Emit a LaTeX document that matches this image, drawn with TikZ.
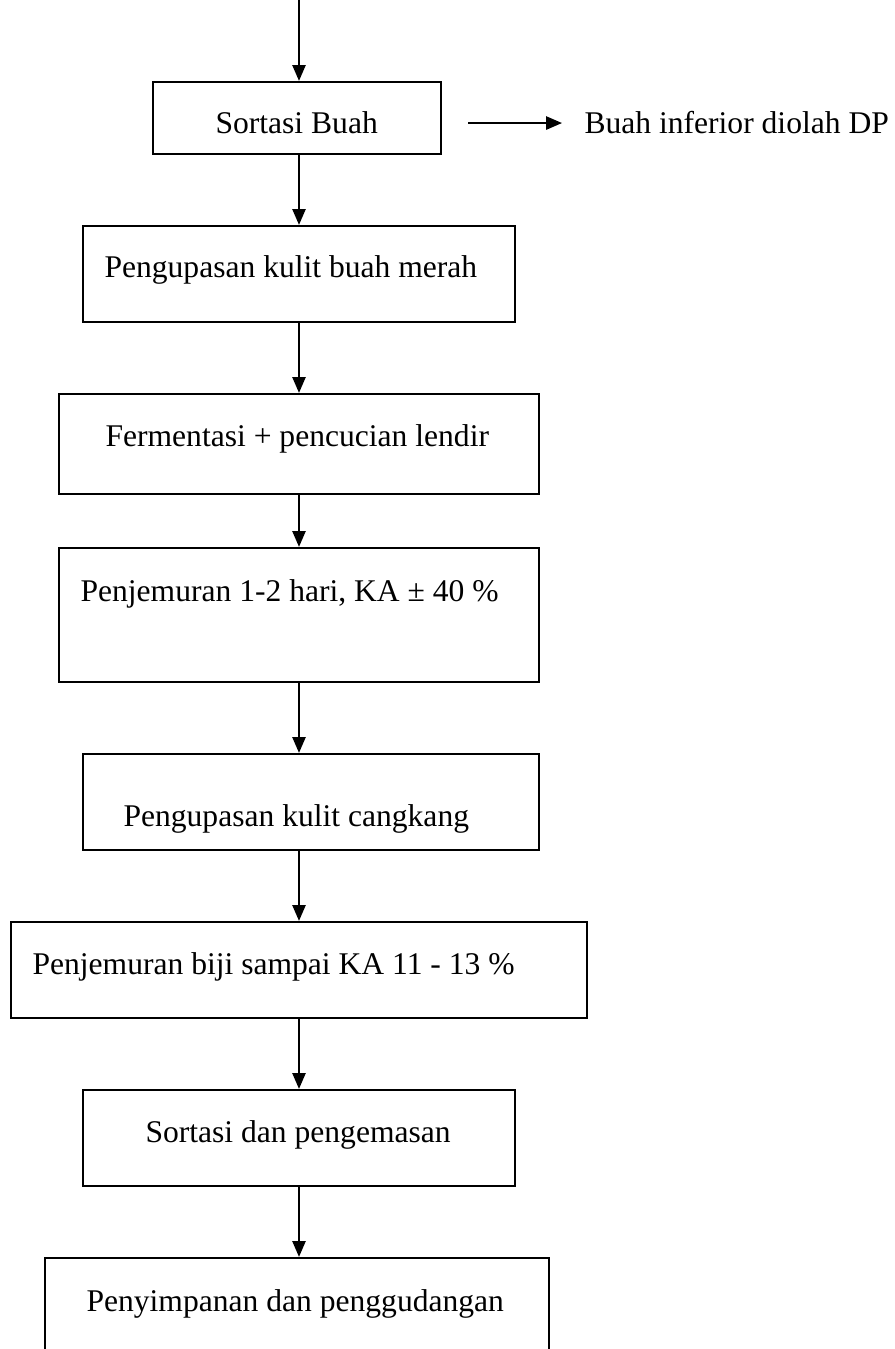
\documentclass[tikz,border=0pt]{standalone}
\usepackage{fontspec}
\setmainfont{Liberation Serif}
\usetikzlibrary{positioning}
\usetikzlibrary{arrows.meta}
\newcommand{\pxu}{0.38pt}
\tikzset{
  flowbox/.style={draw, line width=0.85pt, inner sep=0pt},
  flowtext/.style={inner sep=0pt, font=\fontsize{12pt}{14pt}\selectfont},
  flowarrow/.style={line width=0.7pt, -{Triangle[length=6pt,width=5pt]}}
}

\begin{document}
\begin{tikzpicture}[x=\pxu, y=-\pxu]
		% Fix page size
		\useasboundingbox (0,0) rectangle (894,1349);
		\clip (0,0) rectangle (894,1349);
		% Draw boxes
		\node[flowbox, minimum width=288*\pxu, minimum height=72*\pxu] (sortasi) at (297,118) {};
		\node[flowbox, minimum width=432*\pxu, minimum height=96*\pxu] (kupasbuah) at (299,274) {};
		\node[flowbox, minimum width=480*\pxu, minimum height=100*\pxu] (fermentasi) at (299,444) {};
		\node[flowbox, minimum width=480*\pxu, minimum height=134*\pxu] (jemur) at (299,615) {};
		\node[flowbox, minimum width=456*\pxu, minimum height=96*\pxu] (kupascangkang) at (311,802) {};
		\node[flowbox, minimum width=576*\pxu, minimum height=96*\pxu] (jemurbiji) at (299,970) {};
		\node[flowbox, minimum width=432*\pxu, minimum height=96*\pxu] (kemas) at (299,1138) {};
		\node[flowbox, minimum width=504*\pxu, minimum height=96*\pxu] (simpan) at (297,1306) {};
		% Label boxes
		\node[flowtext, anchor=base west] at (215,134) {Sortasi Buah};
		\node[flowtext, anchor=base west] (inferior) at (584,134) {Buah inferior diolah DP};
		\node[flowtext, anchor=base west] at (104,277) {Pengupasan kulit buah merah};
		\node[flowtext, anchor=base west] at (105,446) {Fermentasi + pencucian lendir};
		\node[flowtext, anchor=base west] at (80,601) {Penjemuran 1-2 hari, KA ± 40 \%};
		\node[flowtext, anchor=base west] at (123,826) {Pengupasan kulit cangkang};
		\node[flowtext, anchor=base west] at (32,974) {Penjemuran biji sampai KA 11 - 13 \%};
		\node[flowtext, anchor=base west] at (145,1142) {Sortasi dan pengemasan};
		\node[flowtext, anchor=base west] at (86,1311) {Penyimpanan dan penggudangan};
		% Draw arrows
		\coordinate (spine) at (299,0);
		\draw[flowarrow] (spine) -- (spine |- sortasi.north);
		\draw[flowarrow] (sortasi.south -| spine) -- (kupasbuah.north -| spine);
		\draw[flowarrow] (kupasbuah.south -| spine) -- (fermentasi.north -| spine);
		\draw[flowarrow] (fermentasi.south -| spine) -- (jemur.north -| spine);
		\draw[flowarrow] (jemur.south -| spine) -- (kupascangkang.north -| spine);
		\draw[flowarrow] (kupascangkang.south -| spine) -- (jemurbiji.north -| spine);
		\draw[flowarrow] (jemurbiji.south -| spine) -- (kemas.north -| spine);
		\draw[flowarrow] (kemas.south -| spine) -- (simpan.north -| spine);
		\draw[flowarrow] ([xshift=26*\pxu]sortasi.east |- inferior.west) -- ([xshift=-22*\pxu]inferior.west);
	\end{tikzpicture}
\end{document}
